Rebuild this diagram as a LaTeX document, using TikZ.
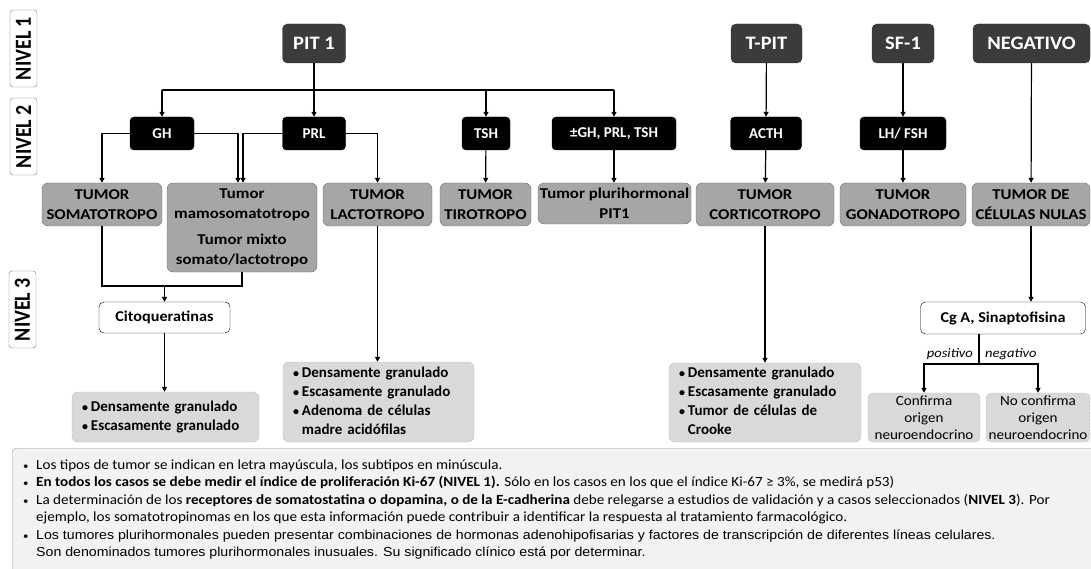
\documentclass[tikz,border=0pt]{standalone}
\usepackage{fontspec}
\setmainfont{Carlito}
\newfontfamily\widefont[FakeStretch=1.12]{Carlito}
\newfontfamily\factorfont[FakeStretch=1.08]{Carlito}
\newfontfamily\notefont[FakeStretch=1.08]{Carlito}
\newfontfamily\arialfont[FakeStretch=1.09]{Liberation Sans}
\usepackage{xcolor}
\usepackage{tikz}
\usetikzlibrary{
    arrows.meta,
    positioning,
    calc
}
\definecolor{factorfill}{HTML}{3B3B3B}
\definecolor{tumorfill}{HTML}{A6A6A6}
\definecolor{tumorborder}{HTML}{6E6E6E}
\definecolor{subfill}{HTML}{D9D9D9}
\definecolor{subborder}{HTML}{BFBFBF}
\definecolor{notefill}{HTML}{F2F2F2}
\definecolor{noteborder}{HTML}{9E9E9E}
\tikzset{
    level label/.style={
        rectangle, draw=black!55, fill=white, rotate=90,
        rounded corners=3pt, minimum width=77pt, minimum height=27pt,
        inner sep=0pt, font=\fontsize{20}{20}\selectfont\bfseries
    },
    factor/.style={
        rectangle, draw=black!80, fill=factorfill, text=white,
        rounded corners=5pt, minimum height=39pt, inner sep=0pt,
        font=\fontsize{19}{19}\selectfont\factorfont\bfseries
    },
    hormone/.style={
        rectangle, draw=black, fill=black, text=white,
        rounded corners=4pt, minimum height=33pt, inner sep=0pt,
        font=\fontsize{15}{15}\selectfont\bfseries
    },
    tumor/.style={
        rectangle, draw=tumorborder, fill=tumorfill,
        rounded corners=6pt, minimum height=43pt, inner sep=0pt,
        align=center, font=\fontsize{15}{20}\selectfont\widefont\bfseries
    },
    subtype/.style={
        rectangle, draw=subborder, fill=subfill,
        rounded corners=6pt, inner xsep=10pt, inner ysep=0pt,
        align=left, font=\fontsize{15}{19}\selectfont\bfseries
    },
    marker/.style={
        rectangle, draw=black, fill=white,
        rounded corners=5pt, minimum height=31pt, inner sep=0pt,
        font=\fontsize{15}{15}\selectfont\factorfont\bfseries
    },
    outcome/.style={
        rectangle, draw=subborder, fill=subfill,
        rounded corners=5pt, minimum height=49pt, inner sep=0pt,
        align=center, font=\fontsize{14}{17}\selectfont\factorfont
    },
    branch label/.style={
        inner sep=0pt, font=\fontsize{13}{13}\selectfont\widefont\itshape
    },
    notes panel/.style={
        rectangle, draw=noteborder, fill=notefill,
        rounded corners=4pt, inner sep=0pt
    },
    note/.style={
        inner sep=0pt, font=\fontsize{14}{14}\selectfont\notefont
    },
    flow/.style={
        -{Triangle[length=5pt,width=5pt]}, line width=1.2pt
    },
    link/.style={
        line width=1.2pt
    },
}
\newcommand{\smalldot}{{\fontsize{10}{10}\selectfont •}}
\newcommand{\listdot}{{\fontsize{12}{12}\selectfont •}}
\newcommand{\bulletlist}[1]{\begin{tabular}{@{}l@{\hspace{3pt}}l@{}}#1\end{tabular}}
\newcommand{\levelname}[1]{\scalebox{1}[1.15]{#1}}

\begin{document}
\begin{tikzpicture}[x=1pt, y=-1pt]

    \useasboundingbox (0,0) rectangle (1091,569);

    % ── Levels ──
    \node[level label] (nivel1) at (23.5,48.5) {\levelname{NIVEL 1}};
    \node[level label] (nivel2) at (23.5,136.5) {\levelname{NIVEL 2}};
    \node[level label] (nivel3) at (22.5,309.5) {\levelname{NIVEL 3}};

    % ── Level 1: transcription factors ──
    \node[factor, minimum width=63pt] (pit1) at (314,43.5) {PIT 1};
    \node[factor, minimum width=71pt] (tpit) at (766.5,43.5) {T-PIT};
    \node[factor, minimum width=62pt] (sf1) at (903,43.5) {SF-1};
    \node[factor, minimum width=117pt] (negativo) at (1031.5,43.5) {NEGATIVO};

    % ── Level 2: hormones ──
    \node[hormone, minimum width=64pt] (gh) at (162,133.5) {GH};
    \node[hormone, minimum width=63pt] (prl) at (314,133.5) {PRL};
    \node[hormone, minimum width=48pt] (tsh) at (486,133.5) {TSH};
    \node[hormone, minimum width=124pt] (pluri) at (614,133.5) {±GH, PRL, TSH};
    \node[hormone, minimum width=71pt] (acth) at (766,133.5) {ACTH};
    \node[hormone, minimum width=86pt] (lhfsh) at (903,133.5) {LH/ FSH};

    % ── Tumour types ──
    \node[tumor, minimum width=120pt] (somato) at (102,204.5) {TUMOR\\SOMATOTROPO};
    \node[tumor, minimum width=150pt, minimum height=89pt] (mamo) at (242,227.5)
        {Tumor\\mamosomatotropo\\[6pt]Tumor mixto\\somato/lactotropo};
    \node[tumor, minimum width=109pt] (lacto) at (377.5,204.5) {TUMOR\\LACTOTROPO};
    \node[tumor, minimum width=91pt] (tiro) at (485.5,204.5) {TUMOR\\TIROTROPO};
    \node[tumor, minimum width=153pt, minimum height=41pt] (plurit) at (614.5,203.5)
        {Tumor plurihormonal\\PIT1};
    \node[tumor, minimum width=138pt] (cortico) at (765,204.5) {TUMOR\\CORTICOTROPO};
    \node[tumor, minimum width=126pt] (gonado) at (903,204.5) {TUMOR\\GONADOTROPO};
    \node[tumor, minimum width=118pt] (nulas) at (1031,204.5) {TUMOR DE\\CÉLULAS NULAS};

    \coordinate (bar) at (314,90);
    \draw[link] (gh |- bar) -- (pluri |- bar);
    \draw[flow] (pit1) -- (prl);
    \foreach \n in {gh,tsh,pluri}
        \draw[flow] (\n |- bar) -- (\n);

    \draw[flow] (gh.west) -| (somato);
    \draw[flow] (gh.east) -| ([xshift=-4pt]mamo.north);
    \draw[flow] (prl.west) -| ([xshift=1pt]mamo.north);
    \draw[flow] (prl.east) -| (lacto);
    \draw[flow] (tsh) -- (tiro);
    \draw[flow] (pluri) -- (pluri |- plurit.north);
    \draw[flow] (tpit) -- (acth);
    \draw[flow] (acth) -- (cortico);
    \draw[flow] (sf1) -- (lhfsh);
    \draw[flow] (lhfsh) -- (gonado);
    \draw[flow] (negativo) -- (nulas);

    % ── Level 3: subtypes ──
    \node[marker, minimum width=131pt] (cito) at (164.5,317.5) {Citoqueratinas};
    \node[subtype, text width=167pt, minimum height=50pt] (sub1) at (165.5,417)
        {\bulletlist{\listdot & Densamente granulado\\ \listdot & Escasamente granulado}};
    \node[subtype, text width=171pt, minimum height=80pt] (sub2) at (378.5,402)
        {\bulletlist{\listdot & Densamente granulado\\ \listdot & Escasamente granulado\\
         \listdot & Adenoma de células\\ & madre acidófilas}};
    \node[subtype, text width=172pt, minimum height=79pt] (sub3) at (765,402.5)
        {\bulletlist{\listdot & Densamente granulado\\ \listdot & Escasamente granulado\\
         \listdot & Tumor de células de\\ & Crooke}};
    \node[marker, minimum width=165pt, minimum height=32pt] (cga) at (1003,318) {Cg A, Sinaptofisina};
    \node[outcome, minimum width=112pt] (conf) at (924,417.5) {Confirma\\origen\\neuroendocrino};
    \node[outcome, minimum width=104pt, draw=black!45, densely dotted] (noconf) at (1038,417.5)
        {No confirma\\origen\\neuroendocrino};

    \coordinate (join) at (164.5,286);
    \draw[link] (somato) |- (join) -| (mamo.south);
    \draw[flow] (join) -- (cito);
    \draw[flow] (cito) -- (cito |- sub1.north);
    \draw[flow] (lacto) -- (lacto |- sub2.north);
    \draw[flow] (cortico) -- (cortico |- sub3.north);
    \draw[flow] (nulas) -- (nulas |- cga.north);

    \coordinate (split) at (979,364);
    \draw[link] (cga.south -| split) -- (split);
    \draw[flow] (split) -| (conf);
    \draw[flow] (split) -| (noconf);
    \node[branch label, anchor=east] (pos) at (973,354) {positivo};
    \node[branch label, anchor=west] (neg) at (985,354) {negativo};

    % ── Notes ──
    \node[notes panel, anchor=north west, minimum width=1090pt, minimum height=130pt] (notesbox) at (12,448) {};
    \foreach \y [count=\i] in {469.5,486.5,504.5,539.5}
        \node[note, anchor=base west] (dot\i) at (23,\y) {\smalldot};
    \node[note, anchor=base west] (note1) at (36,469.5)
        {Los tipos de tumor se indican en letra mayúscula, los subtipos en minúscula.};
    \node[note, anchor=base west] (note2) at (36,486.5)
        {\textbf{En todos los casos se debe medir el índice de proliferación Ki-67 (NIVEL 1).} Sólo en los casos en los que el índice Ki-67 ≥ 3\%, se medirá p53)};
    \node[note, anchor=base west] (note3) at (36,504.5)
        {La determinación de los \textbf{receptores de somatostatina o dopamina, o de la E-cadherina} debe relegarse a estudios de validación y a casos seleccionados (\textbf{NIVEL 3}). Por};
    \node[note, anchor=base west] (note4) at (36,521.5)
        {ejemplo, los somatotropinomas en los que esta información puede contribuir a identificar la respuesta al tratamiento farmacológico.};
    \node[note, anchor=base west, font=\fontsize{13}{13}\selectfont\arialfont] (note5) at (36,539.5)
        {Los tumores plurihormonales pueden presentar combinaciones de hormonas adenohipofisarias y factores de transcripción de diferentes líneas celulares.};
    \node[note, anchor=base west, font=\fontsize{13}{13}\selectfont\arialfont] (note6) at (36,556.5)
        {Son denominados tumores plurihormonales inusuales. Su significado clínico está por determinar.};

\end{tikzpicture}
\end{document}
